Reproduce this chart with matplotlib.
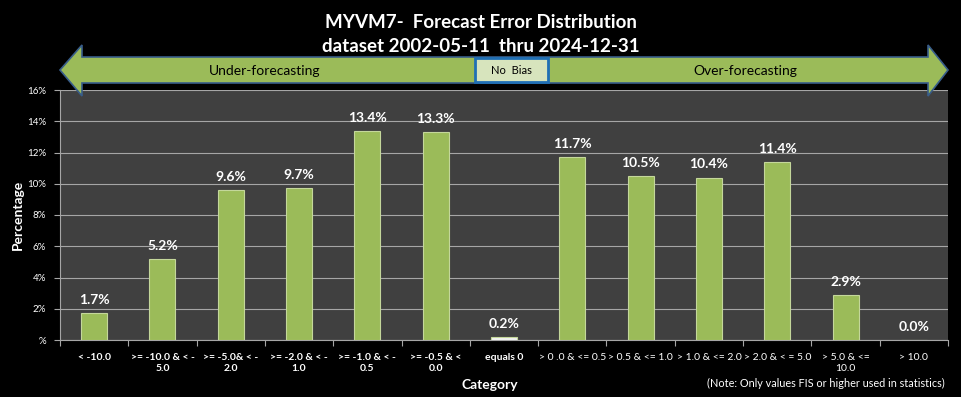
import matplotlib.pyplot as plt
from matplotlib.patches import Polygon, Rectangle

categories = ["< -10.0", ">= -10.0 & < -\n5.0", ">= -5.0& < -\n2.0", ">= -2.0 & < -\n1.0",
              ">= -1.0 & < -\n0.5", ">= -0.5 & <\n0.0", "equals 0", "> 0 .0 & <= 0.5",
              "> 0.5 & <= 1.0", "> 1.0 & <= 2.0", "> 2.0 & < = 5.0", "> 5.0 & <=\n10.0", "> 10.0"]
values = [1.7, 5.2, 9.6, 9.7, 13.4, 13.3, 0.2, 11.7, 10.5, 10.4, 11.4, 2.9, 0.0]
yticks = [0, 2, 4, 6, 8, 10, 12, 14, 16]
ytick_labels = ["%", "2%", "4%", "6%", "8%", "10%", "12%", "14%", "16%"]

plt.rcParams['font.family'] = ['Lato', 'DejaVu Sans']

W, H = 961, 397
fig = plt.figure(figsize=(W / 100, H / 100), dpi=100, facecolor='black')
ax = fig.add_axes([60 / W, 1 - 340 / H, 888 / W, 250 / H])
ax.set_facecolor('#404040')

x = list(range(len(values)))
colors = ['#9bbb59'] * len(values)
colors[6] = '#f2f2f2'
ax.bar(x, values, width=0.38, color=colors, edgecolor='#c4d79b', linewidth=0.8, zorder=3)
for xi, v in zip(x, values):
    ax.text(xi, v + 0.45, f"{v:.1f}%", ha='center', va='bottom', color='white',
            fontsize=10, fontweight='bold')

ax.set_xlim(-0.5, len(values) - 0.5)
ax.set_ylim(0, 16)
ax.set_yticks(yticks)
ax.set_yticklabels(ytick_labels, color='white', fontsize=7)
ax.yaxis.grid(True, color='#a6a6a6', linewidth=0.8, zorder=0)
ax.set_xticks([i + 0.5 for i in range(-1, len(values))], minor=False)
ax.set_xticklabels([''] * (len(values) + 1))
ax.set_xticks(x, minor=True)
ax.set_xticklabels(categories, minor=True, fontsize=7.5, color='white', linespacing=1.4)
for i, lab in enumerate(ax.get_xticklabels(minor=True)):
    if i <= 6:
        lab.set_fontweight('bold')
ax.tick_params(axis='x', which='minor', length=0, pad=9)
ax.tick_params(axis='x', which='major', length=4, color='#a6a6a6', direction='out')
ax.tick_params(axis='y', length=4, color='#a6a6a6', direction='out', pad=6)
for s in ['top', 'right']:
    ax.spines[s].set_visible(False)
for s in ['left', 'bottom']:
    ax.spines[s].set_color('#a6a6a6')

ax.set_ylabel('Percentage', color='white', fontsize=10, fontweight='bold', labelpad=2)
fig.text(490 / W, 1 - 385 / H, 'Category', color='white', fontsize=10, fontweight='bold',
         ha='center', va='center')
fig.text(945 / W, 1 - 383 / H, '(Note: Only values FIS or higher used in statistics)',
         color='white', fontsize=7.8, ha='right', va='center')

fig.text(0.5, 1 - 22 / H, 'MYVM7-  Forecast Error Distribution', color='white', fontsize=13.5,
         fontweight='bold', ha='center', va='center')
fig.text(0.5, 1 - 47 / H, 'dataset 2002-05-11  thru 2024-12-31', color='white', fontsize=13.5,
         fontweight='bold', ha='center', va='center')


def fy(py):
    return 1 - py / H


pts = [(60, 70), (82, 45), (82, 57), (928, 57), (928, 45), (948, 70),
       (928, 96), (928, 83), (82, 83), (82, 96)]
arrow = Polygon([(px / W, fy(py)) for px, py in pts], closed=True, transform=fig.transFigure,
                facecolor='#9bbb59', edgecolor='#385d8a', linewidth=1.2, zorder=5)
fig.patches.append(arrow)
box = Rectangle((475 / W, fy(82)), 73 / W, 24 / H, transform=fig.transFigure,
                facecolor='#d7e4bd', edgecolor='#1f6fb5', linewidth=2, zorder=6)
fig.patches.append(box)
fig.text(511 / W, fy(70), 'No  Bias', fontsize=8, color='black', ha='center', va='center', zorder=7)
fig.text(265 / W, fy(71), 'Under-forecasting', fontsize=10, color='black', ha='center',
         va='center', zorder=7)
fig.text(745 / W, fy(71), 'Over-forecasting', fontsize=10, color='black', ha='center',
         va='center', zorder=7)

fig.savefig('out.png', dpi=100, facecolor='black')
